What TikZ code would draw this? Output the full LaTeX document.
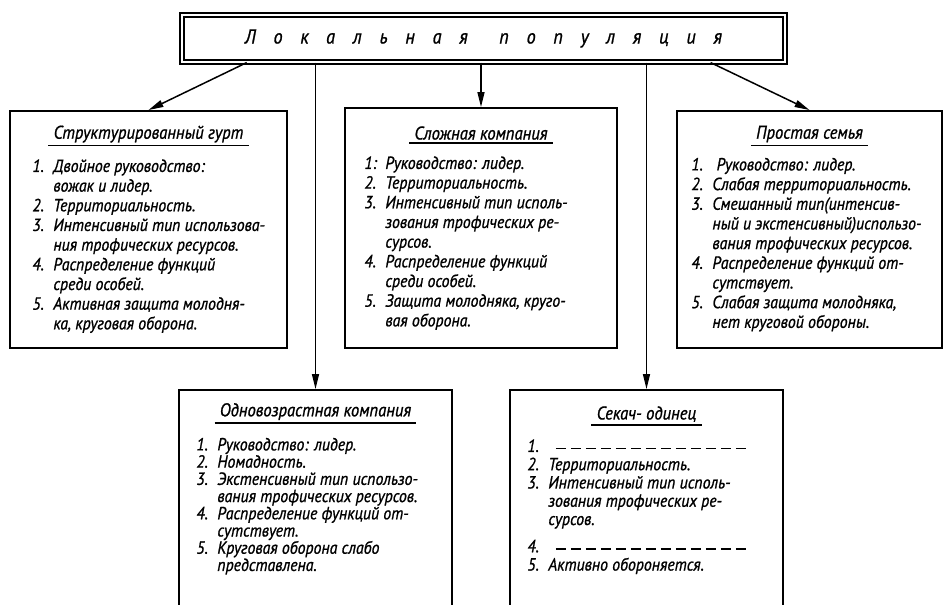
\documentclass[tikz,border=0pt]{standalone}
\usepackage{fontspec}
\newfontfamily\gost{PT Sans}[ItalicFeatures={FakeBold=1,FakeStretch=0.9}]
\usetikzlibrary{positioning,calc,arrows.meta}
\newcommand{\itm}[2]{\makebox[0.42cm][l]{#1}#2}
\newcommand{\cnt}{\hspace*{0.42cm}}
\newcommand{\dashln}{\makebox[4.1cm][l]{\cleaders\hbox to 0.3cm{\hss\rule[0.3ex]{0.2cm}{0.9pt}\hss}\hfill}}

\begin{document}
\begin{tikzpicture}[x=0.02cm,y=-0.02cm,
    frame/.style={draw,line width=1.1pt,inner sep=0pt},
    head/.style={font={\gost\itshape\fontsize{10.5}{12}\selectfont},inner xsep=0.1cm,inner ysep=1.5pt},
    items/.style={font={\gost\itshape\fontsize{10}{11.2}\selectfont},align=left,anchor=north west,inner sep=0pt},
    uline/.style={line width=0.9pt},
    arr/.style={line width=0.85pt,-{Triangle[length=0.3cm,width=0.14cm]}}]
    \clip (0,0) rectangle (948,605);
    \node[draw,double,line width=0.7pt,double distance=1.6pt,minimum width=12.06cm,minimum height=0.94cm,
        font={\gost\itshape\fontsize{11.5}{13}\selectfont\addfontfeature{LetterSpace=88}}] (loc) at (483.5,38.5)
        {Локальная\hspace{18pt}популяция};

    \node[frame,minimum width=5.54cm,minimum height=4.74cm] (b1) at (148.5,229.5) {};
    \node[frame,minimum width=5.44cm,minimum height=4.8cm] (b2) at (481,228) {};
    \node[frame,minimum width=5.3cm,minimum height=4.74cm] (b3) at (809.5,229.5) {};
    \node[frame,minimum width=5.46cm,minimum height=4.8cm] (b4) at (315.5,510) {};
    \node[frame,minimum width=5.46cm,minimum height=4.8cm] (b5) at (646.5,510) {};

    \node[head] (h1) at ([yshift=-0.48cm]b1.north) {Структурированный гурт};
    \node[head] (h2) at ([yshift=-0.52cm]b2.north) {Сложная компания};
    \node[head] (h3) at ([yshift=-0.48cm]b3.north) {Простая семья};
    \node[head] (h4) at ([yshift=-0.45cm]b4.north) {Одновозрастная компания};
    \node[head] (h5) at ([yshift=-0.5cm]b5.north) {Секач- одинец};
    \foreach \h in {h1,h2,h3,h4,h5}
        \draw[uline] (\h.south west) -- (\h.south east);

    \node[items] (l1) at ([xshift=0.46cm,yshift=-0.98cm]b1.north west) {%
        \itm{1.}{Двойное руководство:}\\ \cnt вожак и лидер.\\
        \itm{2.}{Территориальность.}\\
        \itm{3.}{Интенсивный тип использова-}\\ \cnt ния трофических ресурсов.\\
        \itm{4.}{Распределение функций}\\ \cnt среди особей.\\
        \itm{5.}{Активная защита молодня-}\\ \cnt ка, круговая оборона.};
    \node[items] (l2) at ([xshift=0.4cm,yshift=-0.98cm]b2.north west) {%
        \itm{1:}{Руководство: лидер.}\\
        \itm{2.}{Территориальность.}\\
        \itm{3.}{Интенсивный тип исполь-}\\ \cnt зования трофических ре-\\ \cnt сурсов.\\
        \itm{4.}{Распределение функций}\\ \cnt среди особей.\\
        \itm{5.}{Защита молодняка, круго-}\\ \cnt вая оборона.};
    \node[items] (l3) at ([xshift=0.3cm,yshift=-0.95cm]b3.north west) {%
        \itm{1.}{\ Руководство: лидер.}\\
        \itm{2.}{Слабая территориальность.}\\
        \itm{3.}{Смешанный тип(интенсив-}\\ \cnt ный и экстенсивный)использо-\\ \cnt вания трофических ресурсов.\\
        \itm{4.}{Распределение функций от-}\\ \cnt сутствует.\\
        \itm{5.}{Слабая защита молодняка,}\\ \cnt нет круговой обороны.};
    \node[items,font={\gost\itshape\fontsize{10}{9.8}\selectfont}] (l4) at ([xshift=0.36cm,yshift=-0.97cm]b4.north west) {%
        \itm{1.}{Руководство: лидер.}\\
        \itm{2.}{Номадность.}\\
        \itm{3.}{Экстенсивный тип использо-}\\ \cnt вания трофических ресурсов.\\
        \itm{4.}{Распределение функций от-}\\ \cnt сутствует.\\
        \itm{5.}{Круговая оборона слабо}\\ \cnt представлена.};
    \node[items,font={\gost\itshape\fontsize{10}{10.4}\selectfont}] (l5) at ([xshift=0.36cm,yshift=-1.0cm]b5.north west) {%
        \itm{1.}{\dashln}\\
        \itm{2.}{Территориальность.}\\
        \itm{3.}{Интенсивный тип исполь-}\\ \cnt зования трофических ре-\\ \cnt сурсов.\\[0.18cm]
        \itm{4.}{\dashln}\\
        \itm{5.}{Активно обороняется.}};

    \coordinate (s1) at ($(loc.south west)!0.108!(loc.south east)$);
    \coordinate (s3) at ($(loc.south west)!0.876!(loc.south east)$);
    \draw[arr] (s1) -- (b1.north);
    \draw[arr] (loc.south -| b4.north) -- (b4.north);
    \draw[arr] (loc.south -| b2.north) -- (b2.north);
    \draw[arr] (loc.south -| b5.north) -- (b5.north);
    \draw[arr] (s3) -- (b3.north);
\end{tikzpicture}
\end{document}
